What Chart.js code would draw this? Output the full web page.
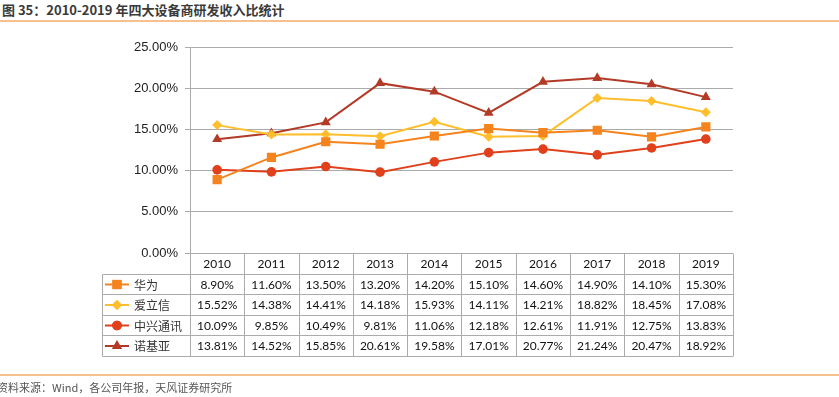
<!DOCTYPE html>
<html>
<head>
<meta charset="utf-8">
<script src="https://cdn.jsdelivr.net/npm/chart.js@4.4.1/dist/chart.umd.min.js"></script>
<style>
  html, body { margin: 0; padding: 0; background: #fff; }
  body { width: 839px; height: 397px; position: relative; overflow: hidden; }
  #title { position: absolute; left: 2px; top: 1px; font: bold 13px "Noto Sans CJK SC", sans-serif; color: #3a3a3a; white-space: nowrap; line-height: 18px; }
  #topline { position: absolute; left: 0; top: 20px; width: 839px; height: 2px; background: #F7C08E; }
  #botline { position: absolute; left: 0; top: 374px; width: 839px; height: 2px; background: #F7C08E; }
  #source { position: absolute; left: -3px; top: 378px; font: 11px "Noto Sans CJK SC", sans-serif; color: #555; white-space: nowrap; line-height: 18px; }
  #wrap { position: absolute; left: 0; top: 0; width: 839px; height: 397px; }
</style>
</head>
<body>
<div id="title">图 35：2010-2019 年四大设备商研发收入比统计</div>
<div id="topline"></div>
<div id="wrap"><canvas id="c" width="839" height="397"></canvas></div>
<div id="botline"></div>
<div id="source">资料来源：Wind，各公司年报，天风证券研究所</div>
<script>
const years = ['2010','2011','2012','2013','2014','2015','2016','2017','2018','2019'];
const seriesNames = ['华为','爱立信','中兴通讯','诺基亚'];
const huawei   = [8.90, 11.60, 13.50, 13.20, 14.20, 15.10, 14.60, 14.90, 14.10, 15.30];
const ericsson = [15.52, 14.38, 14.41, 14.18, 15.93, 14.11, 14.21, 18.82, 18.45, 17.08];
const zte      = [10.09, 9.85, 10.49, 9.81, 11.06, 12.18, 12.61, 11.91, 12.75, 13.83];
const nokia    = [13.81, 14.52, 15.85, 20.61, 19.58, 17.01, 20.77, 21.24, 20.47, 18.92];
const yTicks   = [0, 5, 10, 15, 20, 25];

const colors = ['#F5841F', '#FFBE2B', '#E0401B', '#B33A26'];
const styles = ['rect', 'rectRot', 'circle', 'triangle'];
const radii  = [6.5, 5, 4.8, 5.8];
const allData = [huawei, ericsson, zte, nokia];

const gridColor = '#ABABAB';

const tablePlugin = {
  id: 'dataTable',
  afterDraw(chart) {
    const ctx = chart.ctx;
    const xs = chart.scales.x;
    const area = chart.chartArea;
    const n = years.length;
    const step = xs.getPixelForValue(1) - xs.getPixelForValue(0);
    const left = area.left, right = area.right;
    const legLeft = 102.5;
    const top = Math.round(area.bottom) + 0.5;
    const headH = 20;
    const rowH = 20.6;
    const rowTops = [];
    for (let r = 0; r <= allData.length; r++) rowTops.push(Math.round(top + headH + r * rowH) + 0.5);

    ctx.save();
    ctx.strokeStyle = gridColor;
    ctx.lineWidth = 1;
    ctx.beginPath();
    // header vertical lines
    for (let i = 0; i <= n; i++) {
      const x = Math.round(xs.getPixelForValue(0) - step / 2 + i * step) + 0.5;
      ctx.moveTo(x, top);
      ctx.lineTo(x, rowTops[rowTops.length - 1]);
    }
    // legend column left border
    ctx.moveTo(legLeft, rowTops[0]);
    ctx.lineTo(legLeft, rowTops[rowTops.length - 1]);
    // horizontal lines
    ctx.moveTo(left, top); ctx.lineTo(right, top);
    rowTops.forEach(y => { ctx.moveTo(legLeft, y); ctx.lineTo(right, y); });
    ctx.stroke();

    // header text
    ctx.fillStyle = '#111';
    ctx.font = '12px Lato, "Liberation Sans", sans-serif';
    ctx.textAlign = 'center';
    ctx.textBaseline = 'middle';
    years.forEach((y, i) => ctx.fillText(y, xs.getPixelForValue(i), top + headH / 2 + 0.5));

    // rows
    allData.forEach((vals, r) => {
      const yMid = (rowTops[r] + rowTops[r + 1]) / 2 + 0.5;
      vals.forEach((v, i) => {
        ctx.fillStyle = '#111';
        ctx.font = '12px Lato, "Liberation Sans", sans-serif';
        ctx.textAlign = 'center';
        ctx.fillText(v.toFixed(2) + '%', xs.getPixelForValue(i), yMid);
      });
      // legend key
      ctx.strokeStyle = colors[r];
      ctx.lineWidth = 2;
      ctx.beginPath();
      ctx.moveTo(105, yMid - 0.5);
      ctx.lineTo(129, yMid - 0.5);
      ctx.stroke();
      ctx.fillStyle = colors[r];
      Chart.helpers.drawPoint(ctx, { pointStyle: styles[r], radius: radii[r], rotation: 0, borderWidth: 0 }, 117, yMid - 0.5);
      ctx.fill();
      ctx.fillStyle = '#333';
      ctx.font = '12px "Noto Sans CJK SC", sans-serif';
      ctx.textAlign = 'left';
      ctx.fillText(seriesNames[r], 134, yMid);
      ctx.strokeStyle = gridColor;
      ctx.lineWidth = 1;
    });
    ctx.restore();
  }
};

new Chart(document.getElementById('c'), {
  type: 'line',
  data: {
    labels: years,
    datasets: seriesNames.map((name, k) => ({
      label: name,
      data: allData[k],
      borderColor: colors[k],
      backgroundColor: colors[k],
      borderWidth: 2,
      pointStyle: styles[k],
      pointRadius: radii[k],
      pointHoverRadius: radii[k],
      pointBorderWidth: 0,
      pointBackgroundColor: colors[k],
      tension: 0,
      fill: false
    }))
  },
  options: {
    responsive: false,
    animation: false,
    devicePixelRatio: 1,
    layout: { padding: { top: 47, right: 106, bottom: 144, left: 0 } },
    plugins: { legend: { display: false }, tooltip: { enabled: false }, title: { display: false } },
    scales: {
      x: {
        type: 'category',
        display: false,
        offset: true,
        grid: { display: false }
      },
      y: {
        min: 0,
        max: 25,
        afterFit(scale) { scale.width = 190; },
        afterBuildTicks(scale) { scale.ticks = yTicks.map(v => ({ value: v })); },
        ticks: {
          padding: 7,
          color: '#222',
          font: { family: '"Liberation Sans", Arial, sans-serif', size: 13 },
          callback: v => v.toFixed(2) + '%'
        },
        grid: { color: gridColor, lineWidth: 1, tickLength: 5, drawTicks: true },
        border: { display: true, color: gridColor, width: 1 }
      }
    }
  },
  plugins: [tablePlugin]
});
</script>
</body>
</html>
